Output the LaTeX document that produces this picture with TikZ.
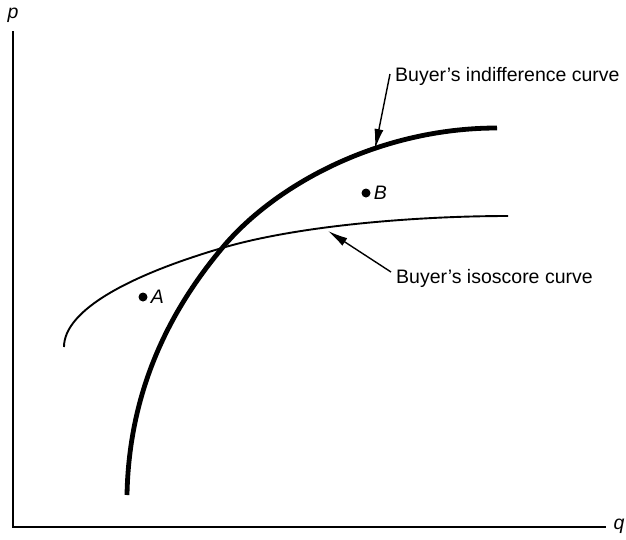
\documentclass[tikz,border=0pt]{standalone}
\usepackage{fontspec}
\setmainfont{Liberation Sans}
\usetikzlibrary{positioning,arrows.meta}

\begin{document}
\begin{tikzpicture}[
  x=1pt, y=-1pt,
  font=\fontsize{19.5}{22}\selectfont,
  axis/.style={line width=2pt, line cap=rect},
  indiff/.style={line width=4.8pt},
  iso/.style={line width=1.9pt},
  dot/.style={circle, fill=black, inner sep=0pt, minimum size=9pt},
  lab/.style={inner sep=1pt, anchor=west},
  arr/.style={-{Latex[length=20pt,width=9pt]}, line width=1.4pt},
]
\useasboundingbox (0,0) rectangle (626,539);
% ---- axes ----
\coordinate (orig) at (13,527);
\coordinate (ytop) at (13,32);
\coordinate (xend) at (605,527);
\draw[axis] (ytop) -- (orig) -- (xend);
\node (plab) at (13,15) {\itshape p};
\node (qlab) at (619,526) {\itshape q};
% ---- curves ----
\draw[indiff] (127,495) .. controls (129,390) and (170,310) .. (223,247)
  .. controls (276,184) and (380,128) .. (497,128);
\draw[iso] (64,347) .. controls (64,310) and (130,275) .. (222,248)
  .. controls (300,225) and (420,216) .. (508,216);
% ---- points ----
\node[dot] (ptA) at (143,297) {};
\node[lab, right=2pt of ptA] (labA) {\itshape A};
\node[dot] (ptB) at (366,193) {};
\node[lab, right=2pt of ptB] (labB) {\itshape B};
% ---- labels ----
\node[lab] (indlab) at (394,76) {Buyer’s indifference curve};
\node[lab] (isolab) at (395,278) {Buyer’s isoscore curve};
\coordinate (indtail) at ([xshift=-4pt,yshift=2pt]indlab.west);
\coordinate (isotail) at ([xshift=-4pt,yshift=6pt]isolab.west);
\coordinate (indtip) at (375,149);
\coordinate (isotip) at (328,231);
\draw[arr] (indtail) -- (indtip);
\draw[arr] (isotail) -- (isotip);
\end{tikzpicture}
\end{document}
